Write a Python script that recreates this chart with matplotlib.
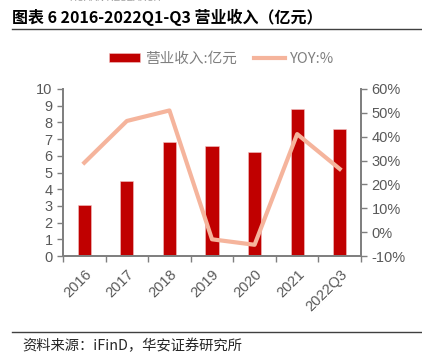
import matplotlib.pyplot as plt
from matplotlib.ticker import FixedLocator

plt.rcParams['font.family'] = ['Liberation Sans', 'Noto Sans CJK SC', 'DejaVu Sans']

# 数据
years = ["2016", "2017", "2018", "2019", "2020", "2021", "2022Q3"]
revenue = [3.05, 4.5, 6.8, 6.6, 6.23, 8.8, 7.6]  # 亿元
yoy = [29.1, 46.6, 51.0, -3.0, -5.3, 41.1, 26.5]  # %

red = "#C00000"
salmon = "#F5B49C"
gray = "#7F7F7F"
txt = "#595959"

fig = plt.figure(figsize=(4.22, 3.62), dpi=100)
ax = fig.add_axes([63 / 422, 1 - 256 / 362, 298 / 422, 167 / 362])
ax2 = ax.twinx()

x = list(range(len(years)))
ax.bar(x, revenue, width=0.31, color=red, edgecolor="#F2C4C4", linewidth=0.4,
       label="营业收入:亿元", zorder=2)
ax2.plot(x, yoy, color=salmon, linewidth=3, label="YOY:%", zorder=3)

ax.set_xlim(-0.5, len(years) - 0.5)
ax.set_ylim(0, 10)
ax.set_yticks(range(0, 11))
ax2.set_ylim(-10, 60)
ax2.set_yticks(range(-10, 61, 10))
ax2.set_yticklabels([f"{v}%" for v in range(-10, 61, 10)])

ax.set_xticks(x)
ax.set_xticklabels(years, rotation=45, ha="right", rotation_mode="anchor")
ax.xaxis.set_minor_locator(FixedLocator([i - 0.5 for i in range(len(years) + 1)]))
ax.tick_params(axis="x", which="major", length=0, pad=8)
ax.tick_params(axis="x", which="minor", length=4, color=gray, width=1)

for a in (ax, ax2):
    a.tick_params(axis="y", colors=txt, labelsize=10.5, length=4, width=1)
    a.tick_params(axis="y", color=gray)
    a.spines["top"].set_visible(False)
    for s in ("left", "right", "bottom"):
        a.spines[s].set_color(gray)
        a.spines[s].set_linewidth(1.3)
ax.tick_params(axis="x", colors=txt, labelsize=10.5)
ax.tick_params(axis="x", which="minor", color=gray)
ax.set_zorder(ax2.get_zorder() - 1)
ax2.patch.set_visible(False)
ax.patch.set_visible(False)

# 图例
h1, l1 = ax.get_legend_handles_labels()
h2, l2 = ax2.get_legend_handles_labels()
fig.legend(h1 + h2, l1 + l2, loc="center", bbox_to_anchor=(221.5 / 422, 1 - 59 / 362),
           ncol=2, frameon=False, labelcolor="#7F7F7F",
           handlelength=2.1, handleheight=0.6, handletextpad=0.35, columnspacing=1.2,
           prop={"family": ["Noto Sans CJK SC"], "size": 10.5})

# 标题与来源
fig.text(12 / 422, 1 - 17 / 362, "图表 6 2016-2022Q1-Q3 营业收入（亿元）",
         fontsize=11.5, fontweight="bold", va="center", ha="left",
         family=["Noto Sans CJK SC"])
fig.add_artist(plt.Line2D([12 / 422, 1], [1 - 29 / 362] * 2, color="#404040", linewidth=1.0))
fig.add_artist(plt.Line2D([12 / 422, 1], [1 - 332 / 362] * 2, color="#404040", linewidth=1.0))
fig.text(22 / 422, 1 - 346 / 362, "资料来源：iFinD，华安证券研究所", fontsize=10.3,
         va="center", ha="left", color="#262626",
         family=["Noto Sans CJK SC", "Liberation Sans"])
fig.text(70 / 422, 1 + 2 / 362, "HUAAN RESEARCH", fontsize=7, color="#A0A0A0",
         va="center", ha="left")

fig.savefig("out.png", dpi=100)
